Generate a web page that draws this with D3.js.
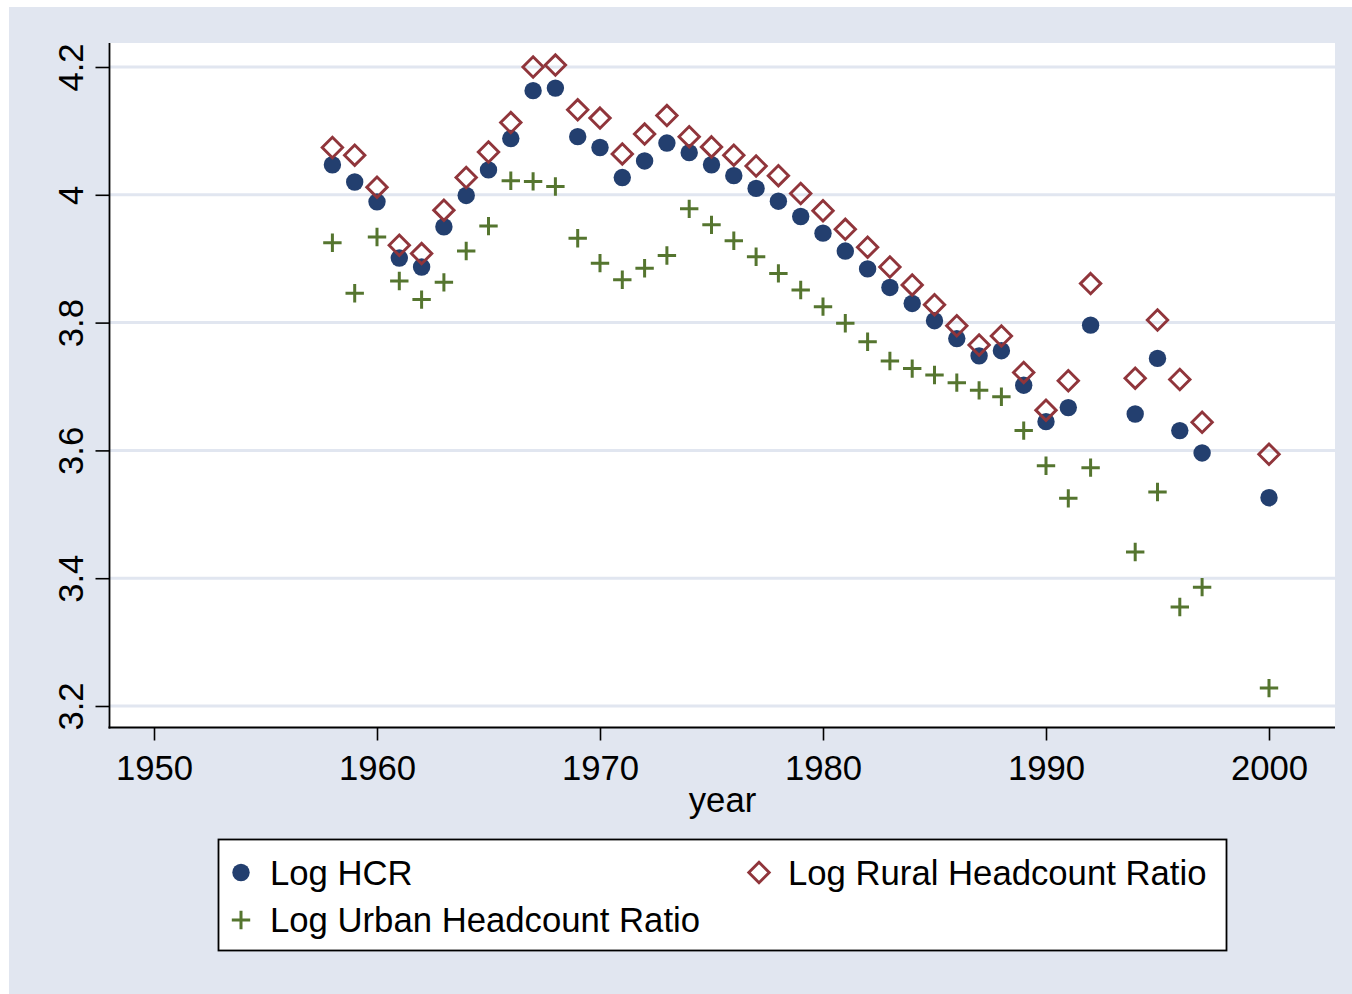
<!DOCTYPE html>
<html><head><meta charset="utf-8">
<script src="https://cdn.jsdelivr.net/npm/d3@7"></script>
<style>body{margin:0;background:#fff}svg{display:block}text{font-family:"Liberation Sans",Arial,sans-serif;fill:#000}</style>
</head><body>
<svg id="c" width="1352" height="994"></svg>
<script>
const years = [1958,1959,1960,1961,1962,1963,1964,1965,1966,1967,1968,1969,1970,1971,1972,1973,1974,1975,1976,1977,1978,1979,1980,1981,1982,1983,1984,1985,1986,1987,1988,1989,1990,1991,1992,1994,1995,1996,1997,2000];
const logHCR = [4.047,4.020,3.989,3.901,3.887,3.950,3.999,4.039,4.088,4.163,4.167,4.091,4.074,4.027,4.053,4.081,4.066,4.047,4.030,4.010,3.990,3.966,3.940,3.912,3.884,3.855,3.830,3.803,3.775,3.748,3.756,3.702,3.645,3.667,3.796,3.657,3.744,3.631,3.596,3.526];
const logRural = [4.074,4.062,4.012,3.921,3.908,3.976,4.027,4.067,4.113,4.200,4.203,4.133,4.120,4.064,4.095,4.124,4.091,4.075,4.062,4.045,4.030,4.002,3.975,3.946,3.918,3.887,3.859,3.828,3.795,3.765,3.779,3.722,3.663,3.709,3.861,3.713,3.804,3.711,3.644,3.594];
const logUrban = [3.925,3.846,3.934,3.865,3.836,3.863,3.912,3.951,4.022,4.021,4.013,3.932,3.893,3.867,3.885,3.905,3.978,3.953,3.928,3.903,3.877,3.851,3.825,3.799,3.770,3.740,3.728,3.718,3.706,3.694,3.684,3.631,3.576,3.525,3.573,3.441,3.535,3.355,3.386,3.228];
const xTicks = [1950,1960,1970,1980,1990,2000];
const yTicks = [3.2,3.4,3.6,3.8,4.0,4.2];
const yTickLabels = ["3.2","3.4","3.6","3.8","4","4.2"];
const legendLabels = ["Log HCR","Log Rural Headcount Ratio","Log Urban Headcount Ratio"];

const C_NAVY="#233f6f", C_MAROON="#90353b", C_GREEN="#55752f", BG="#e1e6f0";
const FS = 34.7;
const svg = d3.select("#c");
const L=110, T=43, R=1335, B=727;

svg.append("rect").attr("x",9).attr("y",7).attr("width",1343).attr("height",987).attr("fill",BG);
svg.append("rect").attr("x",L).attr("y",T).attr("width",R-L).attr("height",B-T).attr("fill","#fff");

const x = d3.scaleLinear().domain([1950,2000]).range([154,1269]);
const y = d3.scaleLinear().domain([3.2,4.2]).range([706,67]);

// gridlines
svg.append("g").selectAll("line").data(yTicks).join("line")
  .attr("x1",L).attr("x2",R).attr("y1",d=>y(d)).attr("y2",d=>y(d))
  .attr("stroke",BG).attr("stroke-width",3);

// axes
const yAxis = d3.axisLeft(y).tickValues(yTicks).tickSize(14).tickFormat((d,i)=>yTickLabels[i]);
const gy = svg.append("g").attr("transform",`translate(${L-0.5},0)`).call(yAxis);
gy.select(".domain").remove();
gy.selectAll(".tick line").attr("stroke","#000").attr("stroke-width",1.6);
gy.selectAll(".tick text").attr("font-size",FS).attr("fill","#000")
  .attr("text-anchor","middle").attr("dy",0).attr("x",0).attr("y",0)
  .attr("transform","translate(-27,0) rotate(-90)");

const xAxis = d3.axisBottom(x).tickValues(xTicks).tickSize(13).tickFormat(d3.format("d"));
const gx = svg.append("g").attr("transform",`translate(0,${B+0.5})`).call(xAxis);
gx.select(".domain").remove();
gx.selectAll(".tick line").attr("stroke","#000").attr("stroke-width",1.6);
gx.selectAll(".tick text").attr("font-size",FS).attr("fill","#000").attr("y",52).attr("dy",0);

svg.append("line").attr("x1",L-0.5).attr("x2",L-0.5).attr("y1",T).attr("y2",B+1.5).attr("stroke","#000").attr("stroke-width",1.8);
svg.append("line").attr("x1",L-1.5).attr("x2",R).attr("y1",B+0.5).attr("y2",B+0.5).attr("stroke","#000").attr("stroke-width",1.8);

svg.append("text").attr("x",(L+R)/2).attr("y",812).attr("text-anchor","middle").attr("font-size",FS).text("year");

const idx = d3.range(years.length);
const diamond = (s)=>`M0,${-s}L${s},0L0,${s}L${-s},0Z`;
const plus = (s)=>`M${-s},0H${s}M0,${-s}V${s}`;

// urban plus
svg.append("g").selectAll("path").data(idx).join("path")
  .attr("transform",i=>`translate(${x(years[i])},${y(logUrban[i])})`)
  .attr("d",plus(9.2)).attr("stroke",C_GREEN).attr("stroke-width",3).attr("fill","none");
// HCR circles
svg.append("g").selectAll("circle").data(idx).join("circle")
  .attr("cx",i=>x(years[i])).attr("cy",i=>y(logHCR[i])).attr("r",8.7).attr("fill",C_NAVY);
// rural diamonds
svg.append("g").selectAll("path").data(idx).join("path")
  .attr("transform",i=>`translate(${x(years[i])},${y(logRural[i])})`)
  .attr("d",diamond(10.2)).attr("stroke",C_MAROON).attr("stroke-width",2.9).attr("fill","none");

// legend
const lg = svg.append("g");
lg.append("rect").attr("x",218.5).attr("y",839.5).attr("width",1008).attr("height",111).attr("fill","#fff").attr("stroke","#000").attr("stroke-width",1.8);
lg.append("circle").attr("cx",241).attr("cy",872.5).attr("r",8.7).attr("fill",C_NAVY);
lg.append("text").attr("x",270).attr("y",885).attr("font-size",FS).text(legendLabels[0]);
lg.append("path").attr("transform","translate(759,872.5)").attr("d",diamond(10.2)).attr("stroke",C_MAROON).attr("stroke-width",2.9).attr("fill","none");
lg.append("text").attr("x",788).attr("y",885).attr("font-size",FS).text(legendLabels[1]);
lg.append("path").attr("transform","translate(241,920)").attr("d",plus(9.2)).attr("stroke",C_GREEN).attr("stroke-width",3).attr("fill","none");
lg.append("text").attr("x",270).attr("y",932).attr("font-size",FS).text(legendLabels[2]);
</script>
</body></html>
